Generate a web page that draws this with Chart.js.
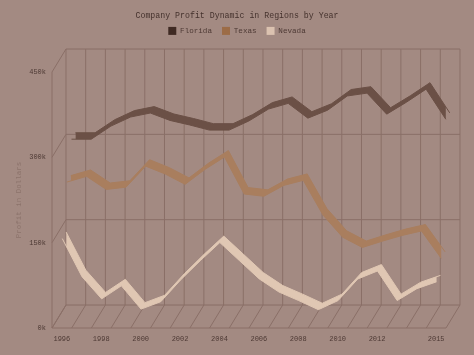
<!DOCTYPE html>
<html><head><meta charset="utf-8">
<script src="https://cdn.jsdelivr.net/npm/chart.js@4"></script>
<style>html,body{margin:0;padding:0;background:#a38a82;}canvas{display:block}</style>
</head><body>
<canvas id="c" width="474" height="355"></canvas>
<script>
// ---- data ----
const years = ['1996','1997','1998','1999','2000','2001','2002','2003','2004','2005','2006','2007','2008','2009','2010','2011','2012','2013','2014','2015'];
const florida = [304000,304000,327000,343000,350000,337000,329000,320000,320000,336000,357000,367000,341000,355000,380000,385000,348000,369000,392000,339000];
const texas   = [242000,252000,229000,233000,270000,256000,238000,264000,286000,221000,217000,236000,245000,184000,145000,127000,138000,148000,156000,108000];
const nevada  = [156000,89000,50000,73000,32000,45000,83000,117000,149000,117000,85000,62000,47000,31000,47000,85000,99000,47000,68000,80000];
const seriesNames = ['Florida','Texas','Nevada'];
const yTicks = [0,150000,300000,450000];

// ---- style ----
const BG = '#a38a82', GRID = '#8a6f67';
const ribbonColors = ['#6b5046','#a97e5e','#e0c7b3'];
const swatchColors = ['#3f2a23','#9c6c47','#dbc2b0'];
const DEPTH_X = 0.71;     // depth of the 3D box in category units
const DEPTH_Y = 40400;    // depth of the 3D box in value units
const slots = [[0.69,0.97],[0.36,0.64],[0.03,0.31]]; // z ranges of the ribbons
const FONT = "'Liberation Mono', 'DejaVu Sans Mono', monospace";
const CHART_TOP = 72;

const seriesValues = [florida, texas, nevada];
const scales = {
  x: {type:'category', offset:true, grid:{display:false, drawTicks:false}, border:{display:false},
      ticks:{autoSkip:false, maxRotation:0, padding:7, color:'#4d3934', font:{family:FONT,size:7},
        callback:function(v,i){const n=years.length; return ((i%2===0 && i<n-2) || i===n-1) ? this.getLabelForValue(v) : '';}},
      afterFit:s=>{s.height=27;}},
  y: {type:'linear', min:0, max:450000, grid:{display:false, drawTicks:false}, border:{display:false},
      ticks:{stepSize:150000, includeBounds:false, padding:6, color:'#4d3934', font:{family:FONT,size:7},
        callback:v=>(v/1000)+'k'},
      title:{display:true, text:'Profit in Dollars', color:'#8c736b', font:{family:FONT,size:7.5}, padding:{top:15,bottom:0}},
      afterFit:s=>{s.width=52;}},
  yr: {type:'linear', position:'right', min:0, max:1, grid:{display:false, drawTicks:false}, border:{display:false},
      ticks:{display:false}, afterFit:s=>{s.width=28;}}
};
const datasets = [];
seriesValues.forEach((vals,s)=>{
  [0,1].forEach(e=>{
    const z = slots[s][e];
    const xid = 'xs'+s+e, yid = 'ys'+s+e;
    const xmin = -0.5 - z*DEPTH_X;
    scales[xid] = {type:'linear', display:false, min:xmin, max:xmin+years.length};
    scales[yid] = {type:'linear', display:false, min:-z*DEPTH_Y, max:yTicks[yTicks.length-1]-z*DEPTH_Y};
    datasets.push({
      label: seriesNames[s] + (e ? ' back' : ''),
      data: vals.map((v,i)=>({x:i,y:v})),
      xAxisID:xid, yAxisID:yid,
      borderColor: ribbonColors[s], backgroundColor: ribbonColors[s],
      borderWidth: 1, pointRadius:0, pointHoverRadius:0, tension:0,
      fill: e ? '-1' : false, clip:false
    });
  });
});

const bgPlugin = {id:'bg', beforeDraw(chart){const c=chart.ctx; c.save(); c.fillStyle=BG; c.fillRect(0,0,chart.width,chart.height); c.restore();}};
const legendSpace = {id:'legendSpace', afterInit(chart){
  const lg = chart.legend; if(!lg) return;
  const f = lg.fit.bind(lg);
  lg.fit = function(){ f(); const tb = chart.titleBlock; const used = tb ? tb.height : 0; this.height = Math.max(this.height, CHART_TOP - used); };
}};
const box3d = {id:'box3d', beforeDatasetsDraw(chart){
  const ctx = chart.ctx, xs = chart.scales.x, ys = chart.scales.y;
  const n = years.length, left = xs.left, right = xs.right, step = (right-left)/n;
  const dx = DEPTH_X*step, dy = ys.getPixelForValue(DEPTH_Y) - ys.getPixelForValue(0);
  const y0 = ys.getPixelForValue(0), yTop = ys.getPixelForValue(yTicks[yTicks.length-1]);
  ctx.save(); ctx.strokeStyle = GRID; ctx.lineWidth = 1; ctx.beginPath();
  for(let k=0;k<=n;k++){
    const bx = left + k*step;
    ctx.moveTo(bx+dx, y0+dy); ctx.lineTo(bx+dx, yTop+dy);
    ctx.moveTo(bx, y0); ctx.lineTo(bx+dx, y0+dy);
  }
  yTicks.forEach(v=>{
    const py = ys.getPixelForValue(v);
    ctx.moveTo(left+dx, py+dy); ctx.lineTo(right+dx, py+dy);
    ctx.moveTo(left, py); ctx.lineTo(left+dx, py+dy);
  });
  ctx.moveTo(left, y0); ctx.lineTo(right, y0);
  ctx.moveTo(left, y0); ctx.lineTo(left, yTop);
  ctx.stroke(); ctx.restore();
}};

new Chart(document.getElementById('c'), {
  type:'line',
  data:{labels:years, datasets},
  options:{
    responsive:false, devicePixelRatio:1, animation:false,
    layout:{padding:0},
    scales,
    plugins:{
      title:{display:true, text:'Company Profit Dynamic in Regions by Year', color:'#45322d',
        font:{family:FONT,size:8.25,weight:'normal'}, padding:{top:11,bottom:-4}},
      legend:{display:true, labels:{boxWidth:8, boxHeight:8, padding:10, color:'#4d3934', font:{family:FONT,size:7.6},
        generateLabels:()=>seriesNames.map((nm,i)=>({text:nm, fillStyle:swatchColors[i], strokeStyle:swatchColors[i], lineWidth:0, hidden:false, datasetIndex:i*2, fontColor:'#4d3934'}))}},
      tooltip:{enabled:false}
    }
  },
  plugins:[bgPlugin, legendSpace, box3d]
});
</script>
</body></html>
